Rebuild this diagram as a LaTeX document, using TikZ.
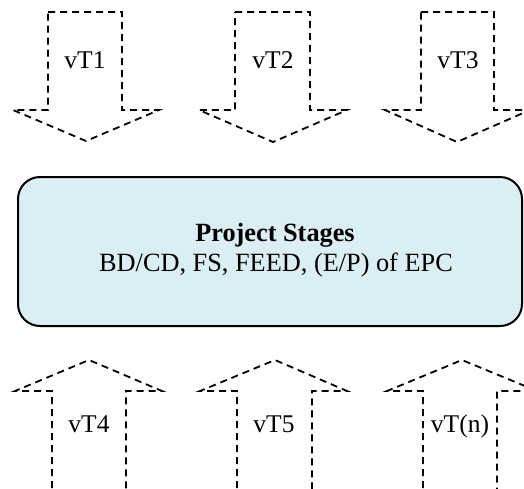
\documentclass[tikz,border=0pt]{standalone}
\usepackage{fontspec}
\setmainfont{Liberation Serif}
\definecolor{boxfill}{HTML}{DAEEF3}
\tikzset{
  dasharrow/.style={draw=black, line width=1.8pt, dash pattern=on 7pt off 5pt, line join=miter},
  stagebox/.style={draw=black, line width=2pt, fill=boxfill, rounded corners=22pt},
  lbl/.style={anchor=base, inner sep=0pt, font=\fontsize{25.5}{29}\selectfont},
  maintxt/.style={anchor=base, inner sep=0pt, font=\fontsize{26.3}{30}\selectfont}
}
\begin{document}
\begin{tikzpicture}[x=1pt,y=-1pt]
\useasboundingbox (0,0) rectangle (524,488);
\clip (0,0) rectangle (524,488);
% down arrows
\draw[dasharrow] (48,12) -- (122,12) -- (122,110) -- (159,110) -- (86,141) -- (13,110) -- (48,110) -- cycle;
\draw[dasharrow] (235,12) -- (310,12) -- (310,110) -- (347,110) -- (273,142) -- (199,110) -- (235,110) -- cycle;
\draw[dasharrow] (421,12) -- (494,12) -- (494,110) -- (530,110) -- (457,142) -- (385,110) -- (421,110) -- cycle;
% up arrows
\draw[dasharrow] (52,500) -- (52,391) -- (15,391) -- (89,360) -- (162,391) -- (126,391) -- (126,500);
\draw[dasharrow] (237,500) -- (237,391) -- (200,391) -- (275,360) -- (347,391) -- (312,391) -- (312,500);
\draw[dasharrow] (423,500) -- (423,391) -- (387,391) -- (462,360) -- (537,391) -- (497,391) -- (497,500);
% labels
\node[lbl] (vt1) at (85,68) {vT1};
\node[lbl] (vt2) at (273,68) {vT2};
\node[lbl] (vt3) at (458,68) {vT3};
\node[lbl] (vt4) at (89,432) {vT4};
\node[lbl] (vt5) at (274,432) {vT5};
\node[lbl] (vtn) at (460,432) {vT(n)};
% central box
\node[stagebox, minimum width=504pt, minimum height=149pt, inner sep=0pt] (stages) at (270,251.5) {};
\node[maintxt] (title) at (275,241) {\bfseries Project Stages};
\node[maintxt] (sub) at (276,271) {BD/CD, FS, FEED, (E/P) of EPC};
\end{tikzpicture}
\end{document}
